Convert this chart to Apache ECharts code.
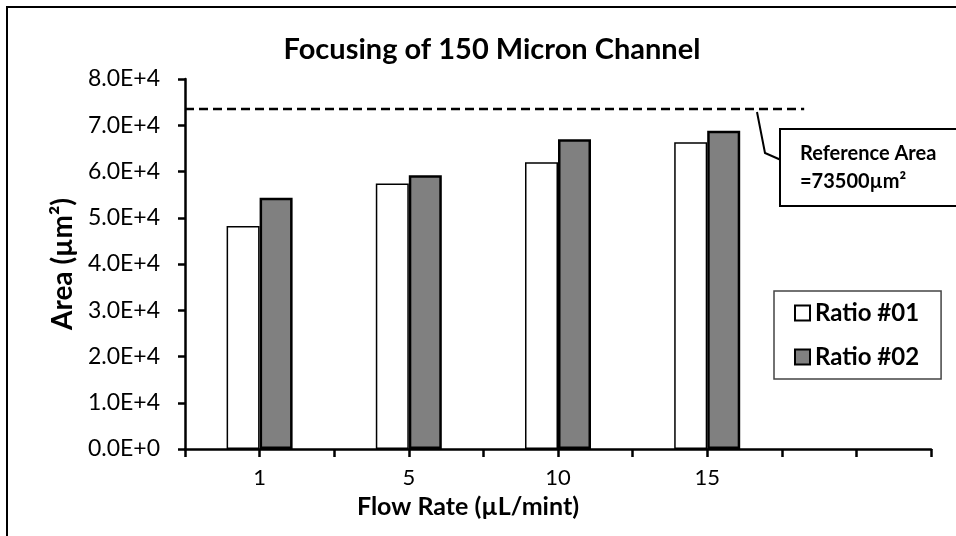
<!DOCTYPE html>
<html>
<head>
<meta charset="utf-8">
<script src="https://cdn.jsdelivr.net/npm/echarts@6/dist/echarts.min.js"></script>
<style>
html,body{margin:0;padding:0;background:#fff;}
#chart{width:956px;height:536px;}
</style>
</head>
<body>
<div id="chart"></div>
<script>
const categories = ['1', '5', '10', '15', ''];
const ratio01 = [48200, 57400, 62000, 66300];
const ratio02 = [54300, 59200, 67000, 68800];
const referenceArea = 73500;
const yTickLabels = ['0.0E+0', '1.0E+4', '2.0E+4', '3.0E+4', '4.0E+4', '5.0E+4', '6.0E+4', '7.0E+4', '8.0E+4'];

const FONT = 'Lato';
const chart = echarts.init(document.getElementById('chart'), null, {renderer: 'canvas'});

const option = {
  backgroundColor: '#fff',
  animation: false,
  title: {
    text: 'Focusing of 150 Micron Channel',
    left: 487, top: 30,
    textAlign: 'center',
    textStyle: {fontFamily: FONT, fontWeight: 'bold', fontSize: 29, color: '#000'}
  },
  legend: {
    orient: 'vertical',
    left: 774, top: 291,
    padding: [9, 22, 9, 20],
    itemGap: 18,
    itemWidth: 15, itemHeight: 15,
    itemTextGap: 6,
    borderColor: '#444', borderWidth: 1.5,
    backgroundColor: '#fff',
    icon: 'rect',
    textStyle: {fontFamily: FONT, fontWeight: 'bold', fontSize: 24, lineHeight: 26, color: '#000'},
    data: ['Ratio #01', 'Ratio #02']
  },
  grid: {left: 185, right: 25, top: 79, bottom: 87, containLabel: false},
  xAxis: [{
    type: 'category',
    data: categories,
    boundaryGap: true,
    axisLine: {lineStyle: {color: '#000', width: 2.5}},
    axisTick: {show: false},
    axisLabel: {fontFamily: FONT, fontSize: 22, color: '#000', margin: 18},
    name: 'Flow Rate (µL/mint)',
    nameLocation: 'middle',
    nameGap: 45,
    nameTextStyle: {fontFamily: FONT, fontWeight: 'bold', fontSize: 25, color: '#000', padding: [0, 180, 0, 0]}
  }, {
    type: 'value',
    min: 0, max: 10, interval: 1,
    position: 'bottom',
    axisLine: {show: false},
    axisTick: {show: true, length: 8, lineStyle: {color: '#000', width: 2.5}},
    axisLabel: {show: false},
    splitLine: {show: false}
  }],
  yAxis: {
    type: 'value',
    min: 0, max: 80000, interval: 10000,
    axisLine: {show: true, lineStyle: {color: '#000', width: 2.5}},
    axisTick: {show: true, length: 7, lineStyle: {color: '#000', width: 2.5}},
    splitLine: {show: false},
    axisLabel: {
      fontFamily: FONT, fontSize: 23, color: '#000', margin: 25,
      formatter: v => yTickLabels[Math.round(v / 10000)]
    },
    name: 'Area (µm²)',
    nameLocation: 'middle',
    nameRotate: 90,
    nameGap: 106,
    nameTextStyle: {fontFamily: FONT, fontWeight: 'bold', fontSize: 28, color: '#000'}
  },
  series: [{
    name: 'Ratio #01',
    type: 'bar',
    xAxisIndex: 0,
    data: ratio01,
    barWidth: 33,
    barGap: '0%',
    itemStyle: {color: '#fff', borderColor: '#000', borderWidth: 1.5}
  }, {
    name: 'Ratio #02',
    type: 'bar',
    xAxisIndex: 0,
    data: ratio02,
    barWidth: 33,
    barGap: '0%',
    itemStyle: {color: '#808080', borderColor: '#000', borderWidth: 2.5}
  }, {
    name: 'Reference',
    type: 'line',
    xAxisIndex: 1,
    data: [[0, referenceArea], [8.3, referenceArea]],
    symbol: 'none',
    lineStyle: {color: '#000', width: 2.5, type: [9, 5]},
    z: 5
  }],
  graphic: [{
    type: 'rect',
    shape: {x: 7, y: 7, width: 1000, height: 600},
    style: {fill: 'none', stroke: '#000', lineWidth: 2},
    silent: true, z: -10
  }, {
    type: 'polyline',
    shape: {points: [[757, 112], [765, 153], [781, 160]]},
    style: {stroke: '#000', lineWidth: 2, fill: 'none'},
    z: 10
  }, {
    type: 'rect',
    shape: {x: 780, y: 129, width: 200, height: 77},
    style: {fill: '#fff', stroke: '#000', lineWidth: 2},
    z: 10
  }, {
    type: 'text',
    x: 800, y: 154,
    style: {text: 'Reference Area', fontFamily: FONT, fontWeight: 'bold', fontSize: 20, fill: '#000', verticalAlign: 'middle'},
    z: 11
  }, {
    type: 'text',
    x: 800, y: 182,
    style: {text: '=73500µm²', fontFamily: FONT, fontWeight: 'bold', fontSize: 20, fill: '#000', verticalAlign: 'middle'},
    z: 11
  }]
};
chart.setOption(option);
</script>
</body>
</html>
